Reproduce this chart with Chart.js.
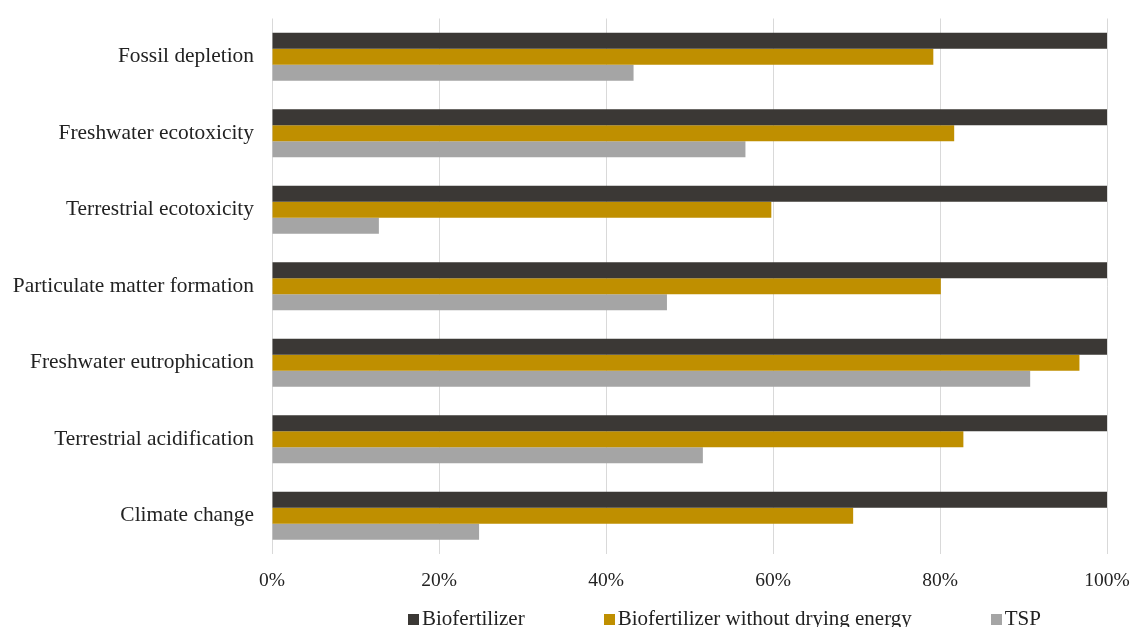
<!DOCTYPE html>
<html>
<head>
<meta charset="utf-8">
<title>Impact categories</title>
<script src="https://cdn.jsdelivr.net/npm/chart.js@4.4.1/dist/chart.umd.min.js"></script>
<style>
  html, body { margin: 0; padding: 0; background: #fff; overflow: hidden; }
  #wrap { position: relative; width: 1137px; height: 627px; }
  #impactChart { display: block; }
  #legend {
    position: absolute; left: 408px; top: 606px;
    font: 21px 'Liberation Serif', 'Times New Roman', serif;
    line-height: 24px; color: #222; white-space: nowrap;
  }
  #legend .item { display: inline-block; margin-right: 79px; }
  #legend .swatch { display: inline-block; width: 11px; height: 11px; margin-right: 3px; }
</style>
</head>
<body>
<div id="wrap">
  <canvas id="impactChart" width="1137" height="627"></canvas>
  <div id="legend"></div>
</div>
<script>
const categories = [
  'Fossil depletion',
  'Freshwater ecotoxicity',
  'Terrestrial ecotoxicity',
  'Particulate matter formation',
  'Freshwater eutrophication',
  'Terrestrial acidification',
  'Climate change'
];
const seriesNames = ['Biofertilizer', 'Biofertilizer without drying energy', 'TSP'];
const biofertilizer = [100, 100, 100, 100, 100, 100, 100];
const withoutDrying = [79.2, 81.7, 59.8, 80.1, 96.7, 82.8, 69.6];
const tsp = [43.3, 56.7, 12.8, 47.3, 90.8, 51.6, 24.8];
const tickValues = [0, 20, 40, 60, 80, 100];

const colors = ['#3b3835', '#bf8f00', '#a5a5a5'];
const serif = "'Liberation Serif', 'Times New Roman', serif";

Chart.defaults.font.family = serif;
Chart.defaults.color = '#222';

const datasets = [biofertilizer, withoutDrying, tsp].map((values, i) => ({
  label: seriesNames[i],
  data: values,
  backgroundColor: colors[i],
  borderWidth: 0,
  barPercentage: 1,
  categoryPercentage: 0.628
}));

new Chart(document.getElementById('impactChart'), {
  type: 'bar',
  data: { labels: categories, datasets: datasets },
  options: {
    indexAxis: 'y',
    responsive: false,
    animation: false,
    layout: { padding: { top: 18.5, right: 30, bottom: 19.5, left: 0 } },
    plugins: {
      legend: { display: false },
      tooltip: { enabled: false }
    },
    scales: {
      x: {
        min: tickValues[0],
        max: tickValues[tickValues.length - 1],
        afterBuildTicks: (scale) => { scale.ticks = tickValues.map(v => ({ value: v })); },
        grid: { color: '#d9d9d9', lineWidth: 1, drawTicks: false },
        border: { display: false },
        ticks: {
          padding: 15,
          font: { size: 19.5 },
          callback: (v) => v + '%'
        },
        afterFit: (scale) => { scale.paddingLeft = 0; scale.paddingRight = 0; }
      },
      y: {
        grid: { display: false, drawTicks: false },
        border: { display: false },
        ticks: { padding: 18, font: { size: 21.4 } },
        afterFit: (scale) => {
          scale.width = 272;
          scale.paddingTop = 0;
          scale.paddingBottom = 0;
        }
      }
    }
  }
});

// legend built from the same series names and colours
const legend = document.getElementById('legend');
seriesNames.forEach((name, i) => {
  const item = document.createElement('span');
  item.className = 'item';
  const sw = document.createElement('span');
  sw.className = 'swatch';
  sw.style.background = colors[i];
  item.appendChild(sw);
  item.appendChild(document.createTextNode(name));
  legend.appendChild(item);
});
</script>
</body>
</html>
